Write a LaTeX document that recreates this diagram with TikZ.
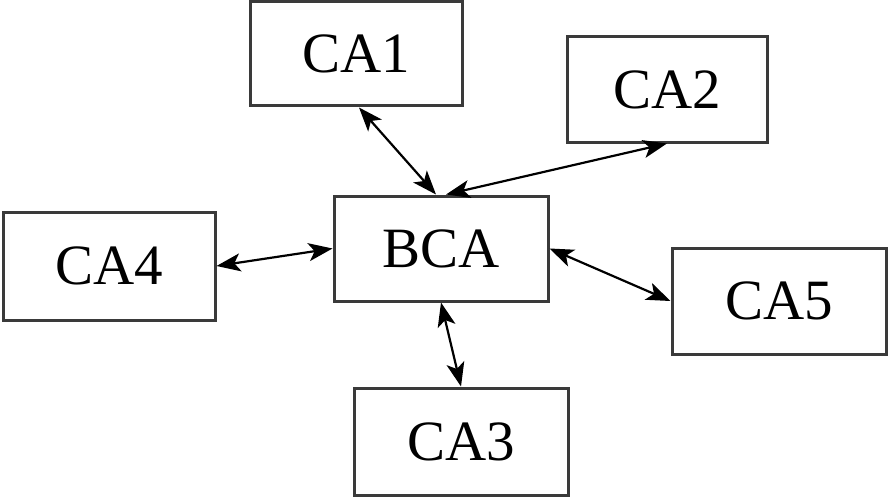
\documentclass[tikz,border=0pt]{standalone}
\usepackage{fontspec}
\setmainfont{Liberation Serif}
\usetikzlibrary{arrows.meta,calc}
\definecolor{boxline}{HTML}{3A3A3A}
\tikzset{
  cabox/.style={draw=boxline, line width=3pt, fill=white, inner sep=0pt,
    font=\fontsize{57}{60}\selectfont},
  link/.style={line width=2.2pt, draw=black, arrows={Stealth[length=24pt,width=18pt,inset=6pt]-Stealth[length=24pt,width=18pt,inset=6pt]}}
}
\begin{document}
\begin{tikzpicture}[x=1pt,y=-1pt]
\useasboundingbox (0,0) rectangle (888,500);
\node[cabox, minimum width=212pt, minimum height=104pt] (CA1) at (356,54) {CA1};
\node[cabox, minimum width=200pt, minimum height=105pt] (CA2) at (667,89.5) {CA2};
\node[cabox, minimum width=214pt, minimum height=105pt] (BCA) at (441,248.5) {BCA};
\node[cabox, minimum width=212pt, minimum height=108pt] (CA4) at (109,266) {CA4};
\node[cabox, minimum width=214pt, minimum height=106pt] (CA5) at (779,301) {CA5};
\node[cabox, minimum width=214pt, minimum height=107pt] (CA3) at (461,441.5) {CA3};
\draw[link] ([xshift=3pt]CA1.south) -- ([xshift=-5pt]BCA.north);
\draw[link] (CA2.south) -- ([xshift=5pt]BCA.north);
\draw[link] (CA4.east) -- (BCA.west);
\draw[link] (BCA.east) -- (CA5.west);
\draw[link] (BCA.south) -- (CA3.north);
\end{tikzpicture}
\end{document}
